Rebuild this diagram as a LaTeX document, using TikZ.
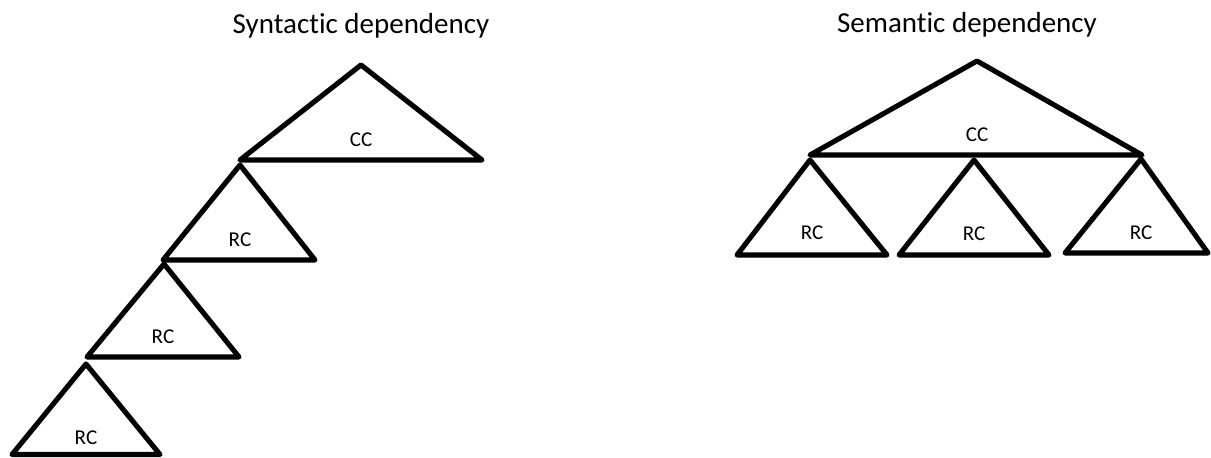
\documentclass[tikz,border=0pt]{standalone}
\usepackage{fontspec}
\setmainfont{Carlito}[Ligatures = {NoCommon}]
\usepackage{tikz}
\tikzset{tri/.style = {draw, line width = 2.9pt, line join = round, line cap = round}}
\tikzset{label/.style = {font = \fontsize{12}{14}\selectfont}}
\tikzset{title/.style = {font = \fontsize{16.5}{19}\selectfont, anchor = base}}

\begin{document}
\begin{tikzpicture}
				\useasboundingbox (0, 0) rectangle (24.22, 9.16);

				% syntactic
				\node[title] (syn) at (7.22, 8.48) {Syntactic dependency};

				\coordinate (cc1) at (7.22, 7.86);
				\coordinate (cc1l) at (4.80, 5.96);
				\coordinate (cc1r) at (9.64, 5.96);
				\coordinate (ra) at (4.80, 5.86);
				\coordinate (ral) at (3.26, 3.96);
				\coordinate (rar) at (6.30, 3.96);
				\coordinate (rb) at (3.28, 3.88);
				\coordinate (rbl) at (1.74, 2.02);
				\coordinate (rbr) at (4.78, 2.02);
				\coordinate (rc) at (1.72, 1.88);
				\coordinate (rcl) at (0.24, 0.07);
				\coordinate (rcr) at (3.20, 0.07);

				\draw[tri] (cc1) -- (cc1r) -- (cc1l) -- cycle;
				\draw[tri] (ra) -- (rar) -- (ral) -- cycle;
				\draw[tri] (rb) -- (rbr) -- (rbl) -- cycle;
				\draw[tri] (rc) -- (rcr) -- (rcl) -- cycle;

				\node[label] (lcc1) at (7.22, 6.36) {CC};
				\node[label] (lra) at (4.80, 4.36) {RC};
				\node[label] (lrb) at (3.26, 2.42) {RC};
				\node[label] (lrc) at (1.72, 0.40) {RC};

				% semantic
				\node[title] (sem) at (19.34, 8.50) {Semantic dependency};

				\coordinate (cc2) at (19.54, 7.94);
				\coordinate (cc2l) at (16.20, 6.06);
				\coordinate (cc2r) at (22.84, 6.06);
				\coordinate (sa) at (16.20, 5.96);
				\coordinate (sal) at (14.74, 4.06);
				\coordinate (sar) at (17.74, 4.06);
				\coordinate (sb) at (19.48, 5.96);
				\coordinate (sbl) at (17.98, 4.06);
				\coordinate (sbr) at (20.98, 4.06);
				\coordinate (sc) at (22.82, 5.98);
				\coordinate (scl) at (21.30, 4.10);
				\coordinate (scr) at (24.16, 4.10);

				\draw[tri] (cc2) -- (cc2r) -- (cc2l) -- cycle;
				\draw[tri] (sa) -- (sar) -- (sal) -- cycle;
				\draw[tri] (sb) -- (sbr) -- (sbl) -- cycle;
				\draw[tri] (sc) -- (scr) -- (scl) -- cycle;

				\node[label] (lcc2) at (19.54, 6.46) {CC};
				\node[label] (lsa) at (16.24, 4.50) {RC};
				\node[label] (lsb) at (19.48, 4.48) {RC};
				\node[label] (lsc) at (22.82, 4.50) {RC};
			\end{tikzpicture}
\end{document}
